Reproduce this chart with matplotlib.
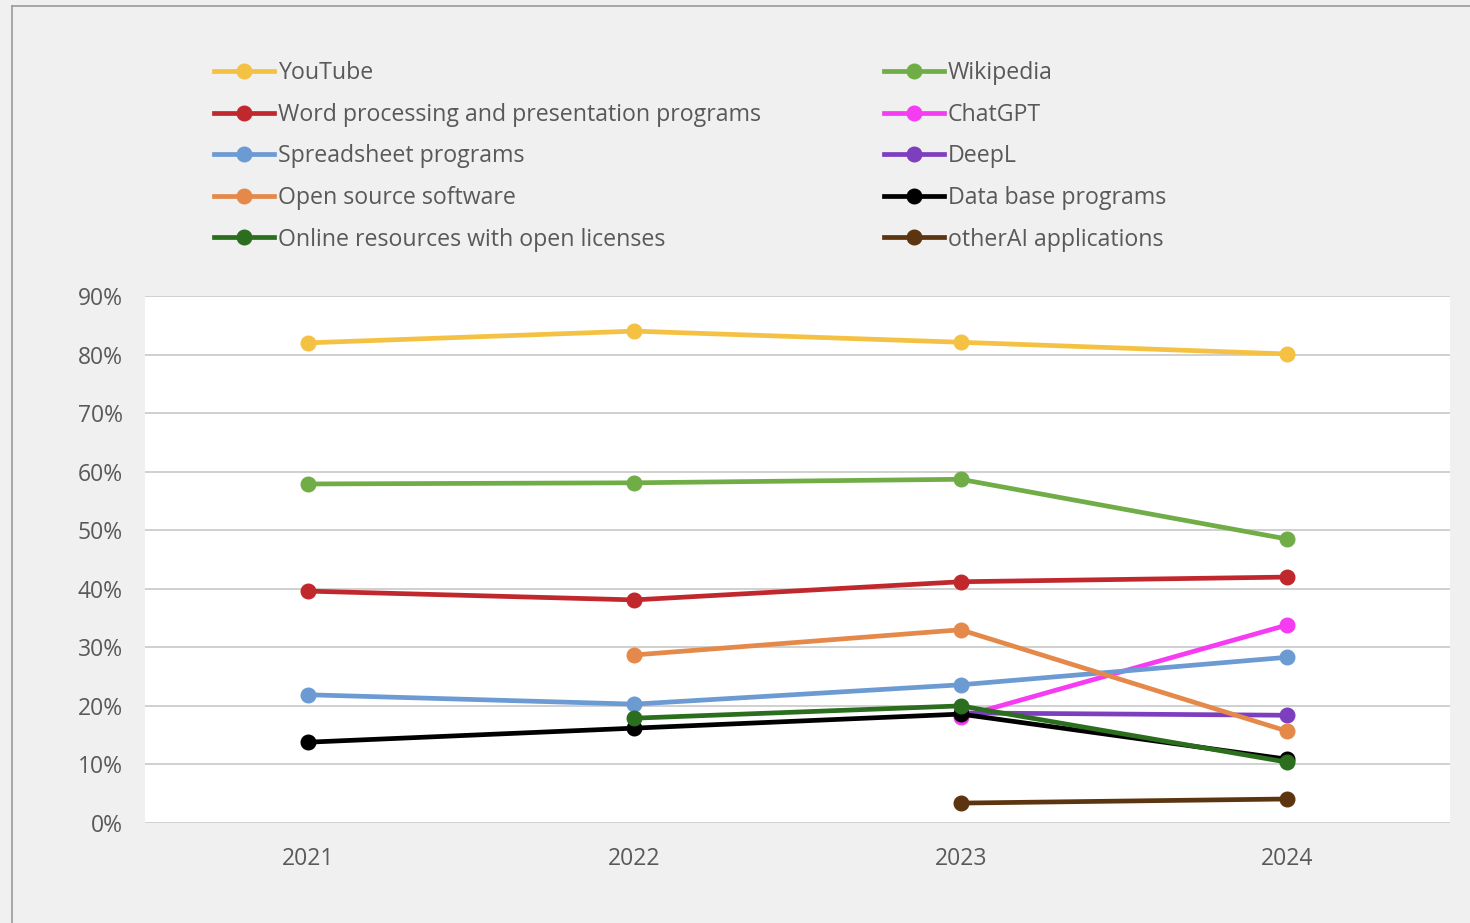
import matplotlib.pyplot as plt
from matplotlib.lines import Line2D
from matplotlib.ticker import PercentFormatter
import numpy as np

plt.rcParams['font.family'] = ['Open Sans', 'DejaVu Sans']

years = ["2021", "2022", "2023", "2024"]

# values in %, None where the series has no point
youtube = [82.0, 84.0, 82.1, 80.1]
wikipedia = [57.9, 58.1, 58.7, 48.5]
word_proc = [39.6, 38.1, 41.2, 42.0]
chatgpt = [None, None, 18.1, 33.8]
spreadsheet = [21.9, 20.3, 23.6, 28.3]
deepl = [None, None, 18.8, 18.4]
open_source = [None, 28.7, 33.0, 15.7]
database = [13.8, 16.2, 18.6, 10.9]
online_res = [None, 17.9, 20.0, 10.4]
other_ai = [None, None, 3.4, 4.1]

series = [
    ("YouTube", youtube, "#f4c142"),
    ("Wikipedia", wikipedia, "#70ad47"),
    ("Word processing and presentation programs", word_proc, "#c0282d"),
    ("ChatGPT", chatgpt, "#f53cf2"),
    ("Spreadsheet programs", spreadsheet, "#6b9bd2"),
    ("DeepL", deepl, "#7e3fbf"),
    ("Open source software", open_source, "#e4894a"),
    ("Data base programs", database, "#000000"),
    ("Online resources with open licenses", online_res, "#2a6e1e"),
    ("otherAI applications", other_ai, "#5c3510"),
]

bg = "#f0f0f0"
txt = "#595959"

fig = plt.figure(figsize=(14.7, 9.23), dpi=100, facecolor=bg)
ax = fig.add_axes([145 / 1470, 1 - 823 / 923, 1305 / 1470, 527 / 923])
ax.set_facecolor("white")

x = np.arange(len(years))
handles = {}
for name, vals, col in series:
    v = np.array([np.nan if a is None else a for a in vals]) / 100
    h, = ax.plot(x, v, color=col, lw=3.4, marker="o", ms=10.5, label=name)
    handles[name] = h

ax.set_xlim(-0.5, 3.5)
ax.set_ylim(0, 0.9)
ax.set_yticks(np.arange(0, 0.91, 0.1))
ax.yaxis.set_major_formatter(PercentFormatter(1.0, decimals=0))
ax.set_xticks(x)
ax.set_xticklabels(years)
ax.tick_params(length=0, labelsize=16.5, labelcolor=txt)
ax.tick_params(axis="y", pad=16)
ax.tick_params(axis="x", pad=17)
ax.grid(axis="y", color="#c8c8c8", lw=1.2)
ax.set_axisbelow(True)
for s in ax.spines.values():
    s.set_visible(False)

col1 = ["YouTube", "Word processing and presentation programs", "Spreadsheet programs",
        "Open source software", "Online resources with open licenses"]
col2 = ["Wikipedia", "ChatGPT", "DeepL", "Data base programs", "otherAI applications"]

leg_kw = dict(frameon=False, fontsize=16.7, labelcolor=txt, handlelength=2.6,
              handletextpad=0.15, labelspacing=0.76, borderpad=0, borderaxespad=0,
              loc="upper left")
l1 = fig.legend([handles[n] for n in col1], col1,
                bbox_to_anchor=(214 / 1470, 1 - 61 / 923), **leg_kw)
l2 = fig.legend([handles[n] for n in col2], col2,
                bbox_to_anchor=(884 / 1470, 1 - 61 / 923), **leg_kw)

# outer frame lines (left and top)
fig.add_artist(Line2D([12 / 1470, 12 / 1470], [0, 1 - 6 / 923], color="#9a9a9a", lw=1.2))
fig.add_artist(Line2D([12 / 1470, 1], [1 - 6 / 923, 1 - 6 / 923], color="#9a9a9a", lw=1.2))

fig.savefig("out.png", dpi=100, facecolor=bg)
